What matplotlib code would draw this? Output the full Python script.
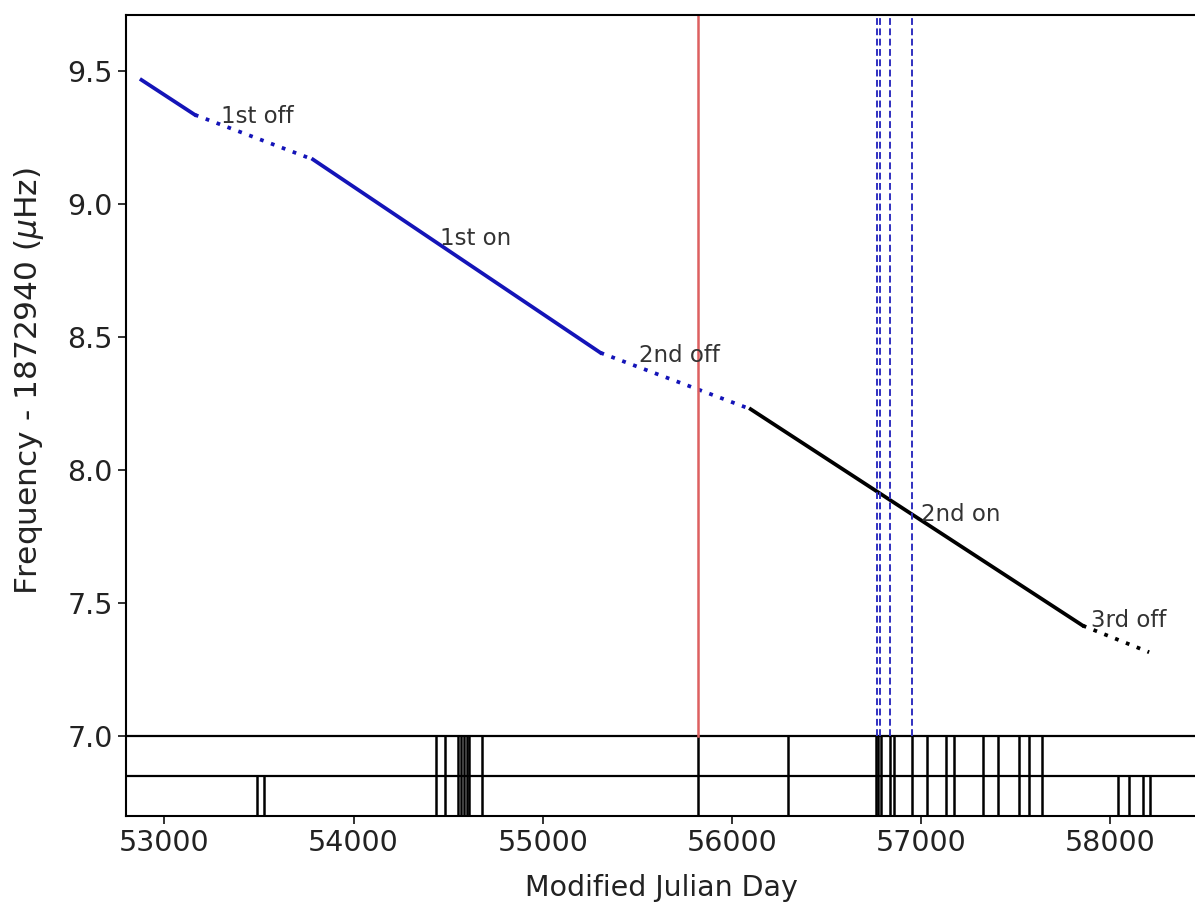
import numpy as np
import matplotlib.pyplot as plt

# ----------------------------
# Dados
# ----------------------------
# limites dos segmentos (MJD) e frequencia - 1872940 (uHz)
seg_mjd = [52879, 53161, 53786, 55305, 56099, 57854, 58205]
seg_freq = [9.466, 9.335, 9.167, 8.441, 8.229, 7.416, 7.316]
seg_state = ["on", "off", "on", "off", "on", "off"]

# rotulos dos estados
lab_text = ["1st off", "1st on", "2nd off", "2nd on", "3rd off"]
lab_mjd = [53302, 54458, 55507, 56998, 57898]
lab_freq = [9.329, 8.869, 8.432, 7.832, 7.435]

# linha vermelha e linhas azuis tracejadas
red_mjd = [55820]
blue_mjd = [56769, 56783, 56836, 56949]

# epocas na faixa inferior
band_full = [54437, 54481, 54552, 54568, 54582, 54597, 54612, 54678,
             55820, 56296, 56760, 56772, 56787, 56834, 56857, 56954,
             57030, 57131, 57175, 57325, 57404, 57519, 57571, 57637]
band_low = [53487, 53526, 58039, 58101, 58172, 58207]

# ----------------------------
# Figura
# ----------------------------
plt.rcParams['font.family'] = 'DejaVu Sans'
fig = plt.figure(figsize=(11.95, 9.07), dpi=100)
ax = fig.add_axes([0.1054, 0.1007, 0.8966, 0.8828])

seg_color = ['#1414b8'] * 4 + ['black'] * 2
for i in range(len(seg_state)):
    ls = '-' if seg_state[i] == "on" else (0, (1, 2.1))
    ax.plot(seg_mjd[i:i+2], seg_freq[i:i+2], color=seg_color[i],
            lw=2.7, ls=ls)

for t, x, y in zip(lab_text, lab_mjd, lab_freq):
    ax.text(x, y, t, fontsize=16.5, color='#333333', ha='left', va='center')

# faixa inferior
y0, ymid, y1 = 6.702, 6.85, 7.0
ax.axhline(y1, color='black', lw=1.6)
ax.axhline(ymid, color='black', lw=1.6)
ax.vlines(band_full, y0, y1, color='black', lw=1.8)
ax.vlines(band_low, y0, ymid, color='black', lw=1.8)

for m in red_mjd:
    ax.plot([m, m], [y1, 9.71], color='#dd6060', lw=1.8)
for m in blue_mjd:
    ax.plot([m, m], [y1, 9.71], color='#3030c0', lw=1.4, ls=(0, (3.5, 1.8)))

ax.set_xlim(52797, 58460)
ax.set_ylim(y0, 9.71)
ax.set_xticks([53000, 54000, 55000, 56000, 57000, 58000])
ax.set_yticks([7.0, 7.5, 8.0, 8.5, 9.0, 9.5])
ax.set_yticklabels(["7.0", "7.5", "8.0", "8.5", "9.0", "9.5"])
ax.tick_params(labelsize=20.5, length=6, width=1.3, colors='#222222')
for s in ax.spines.values():
    s.set_linewidth(1.5)

ax.set_xlabel("Modified Julian Day", fontsize=20.5, color='#222222', labelpad=12)
ax.set_ylabel(r"Frequency - 1872940 ($\mu$Hz)", fontsize=22.5, color='#222222')
ax.yaxis.set_label_coords(-0.075, 0.543)

fig.savefig("out.png", dpi=100)
